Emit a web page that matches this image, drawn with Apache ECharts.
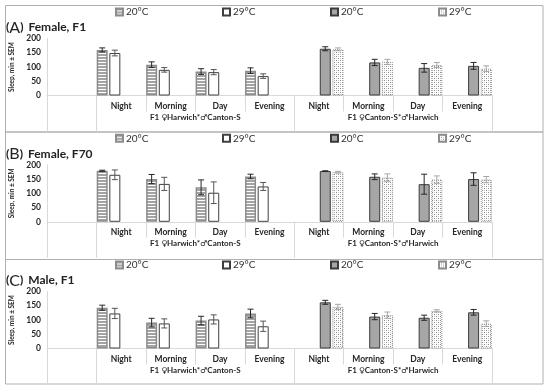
<!DOCTYPE html>
<html><head><meta charset="utf-8">
<script src="https://cdn.jsdelivr.net/npm/echarts@6/dist/echarts.min.js"></script>
<style>html,body{margin:0;padding:0;background:#fff}#c{width:550px;height:392px}</style>
</head><body><div id="c"></div>
<script>
// ---------- data ----------
const categories = ['', 'Night', 'Morning', 'Day', 'Evening', 'Night', 'Morning', 'Day', 'Evening'];
const groupLabels = ['F1 \u2640Harwich*\u2642Canton-S', 'F1 \u2640Canton-S*\u2642Harwich'];
const legendLabels = ['20\u00b0C', '29\u00b0C', '20\u00b0C', '29\u00b0C'];
const panelLetters = ['A', 'B', 'C'];
const panelTitles = ['Female, F1', 'Female, F70', 'Male, F1'];
const yTicks = [0, 50, 100, 150, 200];

// Panel A
const A_h20 = [160, 108, 84, 87];   const A_h20_sem = [7, 10, 10, 10];
const A_h29 = [149, 90, 82, 68];    const A_h29_sem = [10, 8, 9, 8];
const A_c20 = [164, 116, 97, 104];  const A_c20_sem = [7, 11, 15, 12];
const A_c29 = [162, 118, 107, 94];  const A_c29_sem = [5, 9, 9, 10];
// Panel B
const B_h20 = [179, 150, 121, 159]; const B_h20_sem = [2, 16, 26, 8];
const B_h29 = [165, 133, 102, 124]; const B_h29_sem = [17, 23, 38, 14];
const B_c20 = [178, 158, 132, 150]; const B_c20_sem = [1, 10, 35, 22];
const B_c29 = [174, 155, 148, 148]; const B_c29_sem = [3, 13, 13, 11];
// Panel C
const C_h20 = [143, 91, 98, 123];   const C_h20_sem = [9, 15, 15, 15];
const C_h29 = [123, 88, 102, 78];   const C_h29_sem = [18, 16, 16, 18];
const C_c20 = [162, 112, 108, 127]; const C_c20_sem = [7, 11, 9, 10];
const C_c29 = [146, 117, 132, 87];  const C_c29_sem = [9, 11, 4, 10];

const panels = [
  {h20: A_h20, h20s: A_h20_sem, h29: A_h29, h29s: A_h29_sem, c20: A_c20, c20s: A_c20_sem, c29: A_c29, c29s: A_c29_sem},
  {h20: B_h20, h20s: B_h20_sem, h29: B_h29, h29s: B_h29_sem, c20: B_c20, c20s: B_c20_sem, c29: B_c29, c29s: B_c29_sem},
  {h20: C_h20, h20s: C_h20_sem, h29: C_h29, h29s: C_h29_sem, c20: C_c20, c20s: C_c20_sem, c29: C_c29, c29s: C_c29_sem}
];

// ---------- styles ----------
function stripes() {
  const c = document.createElement('canvas'); c.width = 4; c.height = 3;
  const g = c.getContext('2d');
  g.fillStyle = '#ffffff'; g.fillRect(0, 0, 4, 3);
  g.fillStyle = '#a3a3a3'; g.fillRect(0, 0, 4, 2);
  return c;
}
function dots() {
  const c = document.createElement('canvas'); c.width = 4; c.height = 4;
  const g = c.getContext('2d');
  g.fillStyle = '#ffffff'; g.fillRect(0, 0, 4, 4);
  g.fillStyle = '#8a8a8a';
  g.fillRect(0, 0, 1, 1); g.fillRect(2, 2, 1, 1);
  g.fillStyle = '#c8c8c8';
  g.fillRect(2, 0, 1, 1); g.fillRect(0, 2, 1, 1);
  return c;
}
const FONT = 'Lato, "DejaVu Sans", sans-serif';
const seriesKeys = ['h20', 'h29', 'c20', 'c29'];
const itemStyles = {
  h20: {color: {image: stripes(), repeat: 'repeat'}, borderColor: '#8c8c8c', borderWidth: 1.5},
  h29: {color: '#ffffff', borderColor: '#404040', borderWidth: 1},
  c20: {color: '#a6a6a6', borderColor: '#3a3a3a', borderWidth: 1},
  c29: {color: {image: dots(), repeat: 'repeat'}, borderColor: '#8c8c8c', borderWidth: 1, borderType: 'dotted'}
};
const errColors = {h20: '#262626', h29: '#555555', c20: '#262626', c29: '#a6a6a6'};
const BW = 11, GAPF = 0.15;

const panelTops = [5.5, 131.8, 258.5];
const legendLefts = [115, 222, 330, 438];
const gridLeft = 47, gridRight = 58, gridH = 57;

const grid = [], xAxis = [], yAxis = [], series = [], legend = [], title = [], graphic = [];

panels.forEach((P, p) => {
  const top = panelTops[p];
  grid.push({left: gridLeft, right: gridRight, top: top + 33, height: gridH});
  xAxis.push({
    type: 'category', gridIndex: p, data: categories.map((_, i) => String(i)),
    axisLine: {show: true, lineStyle: {color: '#d9d9d9'}},
    axisTick: {show: true, interval: 0, length: 16, lineStyle: {color: '#d9d9d9'}},
    axisLabel: {interval: 0, margin: 6, formatter: v => categories[+v], fontFamily: FONT, fontWeight: 'bold', fontSize: 8.5, color: '#262626'}
  });
  xAxis.push({
    type: 'value', gridIndex: p, min: 0, max: categories.length, position: 'bottom',
    axisLine: {show: false}, splitLine: {show: false},
    axisTick: {show: true, customValues: [0, 1, 5, 9], length: 36, lineStyle: {color: '#d9d9d9'}},
    axisLabel: {customValues: [3, 7], margin: 18, formatter: v => (v === 3 ? groupLabels[0] : groupLabels[1]),
      fontFamily: FONT, fontWeight: 'bold', fontSize: 8, color: '#262626'}
  });
  yAxis.push({
    type: 'value', gridIndex: p, min: yTicks[0], max: yTicks[yTicks.length - 1], interval: 50,
    axisLine: {show: true, lineStyle: {color: '#d9d9d9'}}, axisTick: {show: false}, splitLine: {show: false},
    axisLabel: {fontFamily: FONT, fontWeight: 'bold', fontSize: 8.5, color: '#262626', margin: 6},
    name: 'Sleep, min \u00b1 SEM', nameLocation: 'middle', nameGap: 30,
    nameTextStyle: {fontFamily: FONT, fontWeight: 'bold', fontSize: 6.5, color: '#262626'}
  });
  seriesKeys.forEach((k, si) => {
    const vals = P[k], sems = P[k + 's'];
    const isH = k[0] === 'h';
    const data = categories.map((_, i) => {
      const j = isH ? i - 1 : i - 5;
      return (j >= 0 && j < 4) ? vals[j] : null;
    });
    series.push({
      type: 'bar', name: k, xAxisIndex: 2 * p, yAxisIndex: p, data: data,
      barWidth: BW, barGap: (GAPF * 100) + '%', itemStyle: itemStyles[k], silent: true, z: 2
    });
    const edata = [];
    categories.forEach((_, i) => {
      const j = isH ? i - 1 : i - 5;
      if (j >= 0 && j < 4) edata.push([i, vals[j], sems[j]]);
    });
    const offset = (si - 1.5) * BW * (1 + GAPF);
    series.push({
      type: 'custom', name: k + '_err', xAxisIndex: 2 * p, yAxisIndex: p, data: edata, z: 5, silent: true,
      renderItem: (params, api) => {
        const x = api.value(0), m = api.value(1), s = api.value(2);
        const c = api.coord([x, m]);
        const hi = api.coord([x, m + s])[1], lo = api.coord([x, m - s])[1];
        const cx = c[0] + offset, w = 3;
        const st = {stroke: errColors[k], lineWidth: 1, fill: null};
        return {type: 'group', children: [
          {type: 'line', shape: {x1: cx, y1: hi, x2: cx, y2: lo}, style: st},
          {type: 'line', shape: {x1: cx - w, y1: hi, x2: cx + w, y2: hi}, style: st},
          {type: 'line', shape: {x1: cx - w, y1: lo, x2: cx + w, y2: lo}, style: st}
        ]};
      }
    });
    legend.push({
      data: [k], left: legendLefts[si], top: top + 1.5, padding: 0, icon: 'rect',
      itemWidth: 7, itemHeight: 7, itemGap: 0, selectedMode: false,
      formatter: () => legendLabels[si],
      textStyle: {fontFamily: FONT, fontSize: 10, color: '#333', padding: [0, 0, 0, -2]}
    });
  });
  title.push({
    text: '{p|(}{l|' + panelLetters[p] + '}{p|)} {t|' + panelTitles[p] + '}',
    left: 6, top: top + 13, padding: 0,
    textStyle: {rich: {
      p: {fontFamily: FONT, fontWeight: 'bold', fontSize: 12, color: '#222'},
      l: {fontFamily: FONT, fontWeight: 'normal', fontSize: 16, color: '#222'},
      t: {fontFamily: FONT, fontWeight: 'bold', fontSize: 12, color: '#222'}
    }}
  });
});

graphic.push({type: 'rect', shape: {x: 5.5, y: 5.5, width: 537.5, height: 126.5}, style: {fill: null, stroke: '#b0b0b0', lineWidth: 1}, silent: true});
graphic.push({type: 'rect', shape: {x: 5.5, y: 132, width: 537.5, height: 127.5}, style: {fill: null, stroke: '#b0b0b0', lineWidth: 1}, silent: true});
graphic.push({type: 'rect', shape: {x: 5.5, y: 259.5, width: 537.5, height: 124.5}, style: {fill: null, stroke: '#b0b0b0', lineWidth: 1}, silent: true});

const chart = echarts.init(document.getElementById('c'), null, {renderer: 'canvas'});
chart.setOption({
  animation: false, backgroundColor: '#ffffff',
  grid, xAxis, yAxis, series, legend, title, graphic
});
</script></body></html>
